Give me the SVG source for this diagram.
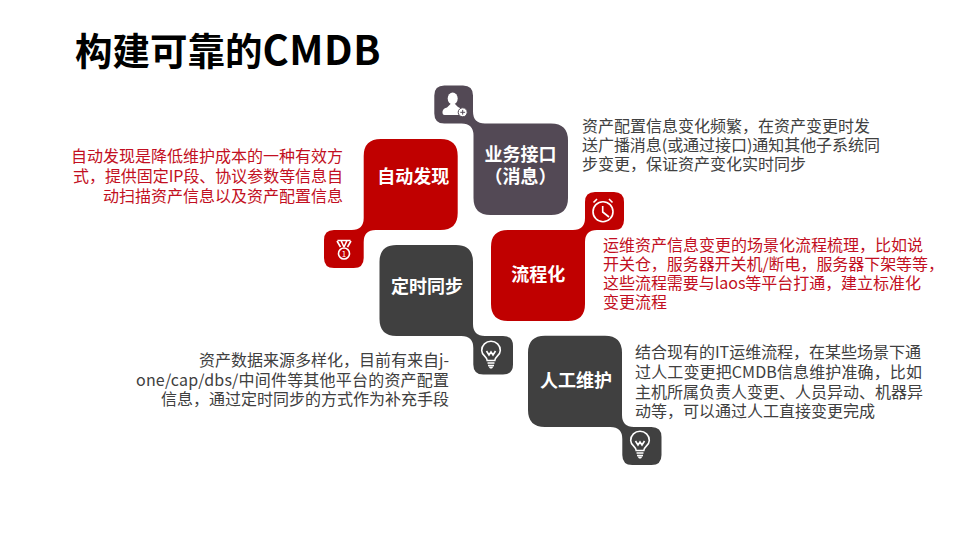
<svg xmlns="http://www.w3.org/2000/svg" width="959" height="539" viewBox="0 0 959 539">
<style>
text{font-family:"Noto Sans CJK SC","Noto Sans",sans-serif}
.title{font-size:37.5px;font-weight:700;fill:#000}
.lab{font-size:18px;font-weight:700;fill:#fff;text-anchor:middle}
.red{font-size:16px;fill:#c20f22}
.gray{font-size:16px;fill:#404040}
.end{text-anchor:end}
.ic{fill:none;stroke:#fff;stroke-width:1.6}
.icf{fill:#fff}
.r{fill:#c00000}.d{fill:#404040}.p{fill:#534955}
</style>
<defs>
<g id="bulb"><path class="ic" d="M-3.800 7.500C-3.800 3.500-9.300 2.500-9.300-2.500A9.300 9.300 0 0 1 9.300-2.500C9.300 2.500 3.800 3.500 3.800 7.500Z"/><path class="ic" stroke-width="1" d="M-4.500-2L-2 2L0-1L2 2L4.500-2"/><path class="ic" d="M-3.500 10H3.500M-3 12.500H3"/><path class="icf" d="M-2.500 13.500H2.500L1 15.500H-1Z"/></g>
</defs>
<text class="title" x="75" y="65">构建可靠的<tspan font-size="40" letter-spacing="0.6">CMDB</tspan></text>
<g id="connectors"></g>
<g id="node-business">
<path class="p" d="M444.300 85.500H463Q473 85.500 473 95.500V111.500Q473 123.500 485 123.500H551Q568 123.500 568 140.500V198Q568 215 551 215H490.500Q473.500 215 473.500 198V135.500Q473.500 123.500 461.500 123.500H444.300Q434.300 123.500 434.300 113.500V95.500Q434.300 85.500 444.300 85.500Z"/>
<ellipse class="icf" cx="452.700" cy="98.500" rx="5" ry="6"/><path class="icf" d="M442.500 113Q442 108.500 447 107.500L450.500 104H455L458 107L461 108.500L459 115H444.500Q442.500 115 442.500 113Z"/>
<circle class="icf" cx="462.700" cy="112.300" r="4.500" stroke="#534955" stroke-width="1"/><path stroke="#534955" d="M460.300 112.300H465.100M462.700 109.900V114.700" fill="none"/>
<text class="lab" x="520.500" y="161">业务接口</text><text class="lab" x="520.500" y="182.700">（消息）</text>
</g>
<g id="node-discovery">
<path class="r" d="M381 139H440.500Q457.700 139 457.700 156V213Q457.700 230 440.500 230H375.700Q363.700 230 363.700 242V258Q363.700 268 353.700 268H334Q324 268 324 258V240Q324 230 334 230H351.700Q363.700 230 363.700 218V156Q363.700 139 381 139Z"/>
<path class="ic" d="M337 241L340.500 247M351 241L347.500 247M337.500 240.500H350.500M341 240.500L344 247M347 240.500L344 247"/><circle class="ic" cx="344" cy="253.500" r="5.500"/><text x="344" y="256.500" font-size="8" fill="#fff" text-anchor="middle">1</text>
<text class="lab" x="413.300" y="182.700">自动发现</text>
</g>
<g id="node-process">
<path class="r" d="M508 230H573Q585 230 585 218V202Q585 192 595 192H614Q624 192 624 202V220Q624 230 614 230H597Q585 230 585 242V304Q585 321 568 321H508Q491 321 491 304V247Q491 230 508 230Z"/>
<circle class="ic" cx="603" cy="211.700" r="10" stroke-width="2"/><path class="ic" d="M602.700 206V212L609 217M593.500 202.500L597 199M612.500 202.500L609 199"/>
<text class="lab" x="538.300" y="280.500">流程化</text>
</g>
<g id="node-sync">
<path class="d" d="M396.500 245H456Q473 245 473 262V324Q473 336 485 336H503Q513 336 513 346V364.500Q513 374.500 503 374.500H483.300Q473.300 374.500 473.300 364.500V348Q473.300 336 461.300 336H396.500Q379.500 336 379.500 319V262Q379.500 245 396.500 245Z"/>
<use href="#bulb" x="491" y="353"/>
<text class="lab" x="427" y="292.700">定时同步</text>
</g>
<g id="node-manual">
<path class="d" d="M545 335.700H605Q622 335.700 622 352.700V415Q622 427 634 427H651.500Q661.500 427 661.500 437V455Q661.500 465 651.500 465H632.300Q622.300 465 622.300 455V439Q622.300 427 610.300 427H545Q528 427 528 410V352.700Q528 335.700 545 335.700Z"/>
<use href="#bulb" x="640" y="443"/>
<text class="lab" x="576" y="386.700">人工维护</text>
</g>
<g id="desc-discovery">
<text class="red end" x="343" y="162">自动发现是降低维护成本的一种有效方</text>
<text class="red end" x="343" y="182" textLength="270">式，提供固定IP段、协议参数等信息自</text>
<text class="red end" x="343" y="202">动扫描资产信息以及资产配置信息</text>
</g>
<g id="desc-business">
<text class="gray" x="582" y="132">资产配置信息变化频繁，在资产变更时发</text>
<text class="gray" x="582" y="151" textLength="298">送广播消息(或通过接口)通知其他子系统同</text>
<text class="gray" x="582" y="170">步变更，保证资产变化实时同步</text>
</g>
<g id="desc-process">
<text class="red" x="603" y="251">运维资产信息变更的场景化流程梳理，比如说</text>
<text class="red" x="603" y="270" textLength="341">开关仓，服务器开关机/断电，服务器下架等等，</text>
<text class="red" x="603" y="289" textLength="318">这些流程需要与laos等平台打通，建立标准化</text>
<text class="red" x="603" y="308">变更流程</text>
</g>
<g id="desc-sync">
<text class="gray end" x="449" y="366">资产数据来源多样化，目前有来自j-</text>
<text class="gray end" x="449" y="386" textLength="313">one/cap/dbs/中间件等其他平台的资产配置</text>
<text class="gray end" x="449" y="405">信息，通过定时同步的方式作为补充手段</text>
</g>
<g id="desc-manual">
<text class="gray" x="635" y="358" textLength="286">结合现有的IT运维流程，在某些场景下通</text>
<text class="gray" x="635" y="378" textLength="287">过人工变更把CMDB信息维护准确，比如</text>
<text class="gray" x="635" y="398">主机所属负责人变更、人员异动、机器异</text>
<text class="gray" x="635" y="417">动等，可以通过人工直接变更完成</text>
</g>
</svg>
